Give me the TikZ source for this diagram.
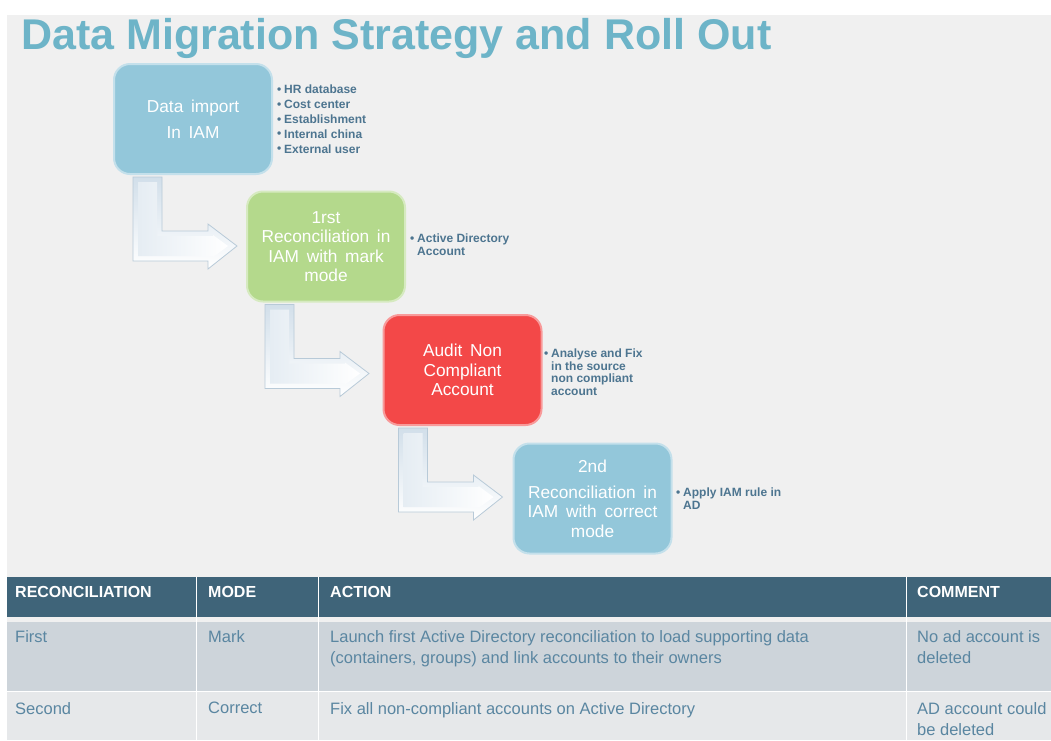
\documentclass[tikz,border=0pt]{standalone}
\usepackage{fontspec}
\setmainfont{Liberation Sans}
\newfontfamily\boxfont{Liberation Sans}[WordSpace=1.6]
\definecolor{titleblue}{HTML}{6DB4C8}
\definecolor{boxblue}{HTML}{93C7DA}
\definecolor{boxgreen}{HTML}{B4D98C}
\definecolor{boxred}{HTML}{F34848}
\definecolor{notecol}{HTML}{4D7590}
\definecolor{headcol}{HTML}{3F6479}
\definecolor{rowone}{HTML}{CDD4DA}
\definecolor{rowtwo}{HTML}{E6E8EA}
\definecolor{celltext}{HTML}{5A86A1}
\definecolor{bggray}{HTML}{F0F0F0}
\definecolor{arrowedge}{HTML}{B8CAD8}
\definecolor{arrowface}{HTML}{D2DFEA}
\newcommand\bul{\makebox[7pt][l]{\fontsize{12}{12}\selectfont\raisebox{0.5pt}{\textbullet}}}
\newcommand\nob{\makebox[7pt]{}}

\begin{document}
\begin{tikzpicture}[x=1pt,y=-1pt,
		stagebox/.style={draw=#1!55!white,line width=2pt,fill=#1,rounded corners=16pt,
			minimum width=158pt,minimum height=110pt,inner sep=0pt,text=white,align=center,
			font=\boxfont\fontsize{17.3}{19.5}\selectfont},
		note/.style={anchor=north west,inner sep=0pt,align=left,text=notecol,
			font=\bfseries\fontsize{12}{12.5}\selectfont},
		headcell/.style={anchor=base west,inner sep=0pt,text=white,font=\bfseries\fontsize{16}{19}\selectfont},
		cell/.style={anchor=north west,inner sep=0pt,align=left,text=celltext,font=\fontsize{16.5}{21}\selectfont}]
	\useasboundingbox (0,0) rectangle (1051,740);
	\fill[white] (0,0) rectangle (1051,740);
	\fill[bggray] (7,15) rectangle (1051,740);

	\node[anchor=base west,inner sep=0pt,text=titleblue,font=\bfseries\fontsize{43}{43}\selectfont] (title) at (21,49) {Data Migration Strategy and Roll Out};

	\node[stagebox=boxblue] (b1) at (193,119) {Data import\\[6.5pt]In IAM};
	\node[stagebox=boxgreen] (b2) at (326,246.5) {1rst\\Reconciliation in\\IAM with mark\\mode};
	\node[stagebox=boxred] (b3) at (462.5,370) {Audit Non\\Compliant\\Account};
	\node[stagebox=boxblue] (b4) at (592.5,498.5) {2nd\\[6.5pt]Reconciliation in\\IAM with correct\\mode};

	\foreach \b/\dx in {b1/20,b2/19,b3/16}{
		\path (\b.south west) ++(\dx,2) coordinate (a0);
		\shadedraw[top color=arrowface,bottom color=white,draw=arrowedge,line width=0.8pt]
			(a0) -- ++(29,0) -- ++(0,54) -- ++(46,0) -- ++(0,-7) -- ++(29,22) -- ++(-29,23) -- ++(0,-8) -- ++(-75,0) -- cycle;
		\shade[left color=arrowface!60!white,right color=white]
			(a0) ++(5,5) -- ++(19,0) -- ++(0,54) -- ++(56,0) -- ++(0,-1) -- ++(15,11) -- ++(-15,11) -- ++(0,-1) -- ++(-75,0) -- cycle;
	}

	\node[note,font=\bfseries\fontsize{12}{14.8}\selectfont] (n1) at (277,85) {\bul HR database\\\bul Cost center\\\bul Establishment\\\bul Internal china\\\bul External user};
	\node[note] (n2) at (410,234) {\bul Active Directory\\\nob Account};
	\node[note] (n3) at (544,349) {\bul Analyse and Fix\\\nob in the source\\\nob non compliant\\\nob account};
	\node[note] (n4) at (676,488) {\bul Apply IAM rule in\\\nob AD};

	\fill[headcol] (7,577) rectangle (1051,617);
	\fill[rowone] (7,622) rectangle (1051,691);
	\fill[rowtwo] (7,692) rectangle (1051,740);
	\draw[white,line width=1pt] (7,691.5) -- (1051,691.5);
	\foreach \x in {196,318,906}
		\draw[white,line width=1pt] (\x,577) -- (\x,740);

	\node[headcell] (h1) at (15,597) {RECONCILIATION};
	\node[headcell] (h2) at (208,597) {MODE};
	\node[headcell] (h3) at (330,597) {ACTION};
	\node[headcell] (h4) at (917,597) {COMMENT};

	\node[cell] (r1c1) at (15,630) {First};
	\node[cell] (r1c2) at (208,630) {Mark};
	\node[cell] (r1c3) at (330,630) {Launch first Active Directory reconciliation to load supporting data\\(containers, groups) and link accounts to their owners};
	\node[cell] (r1c4) at (917,630) {No ad account is\\deleted};
	\node[cell] (r2c1) at (15,702) {Second};
	\node[cell] (r2c2) at (208,702) {Correct};
	\node[cell] (r2c3) at (330,702) {Fix all non-compliant accounts on Active Directory};
	\node[cell] (r2c4) at (917,702) {AD account could\\be deleted};
\end{tikzpicture}
\end{document}
